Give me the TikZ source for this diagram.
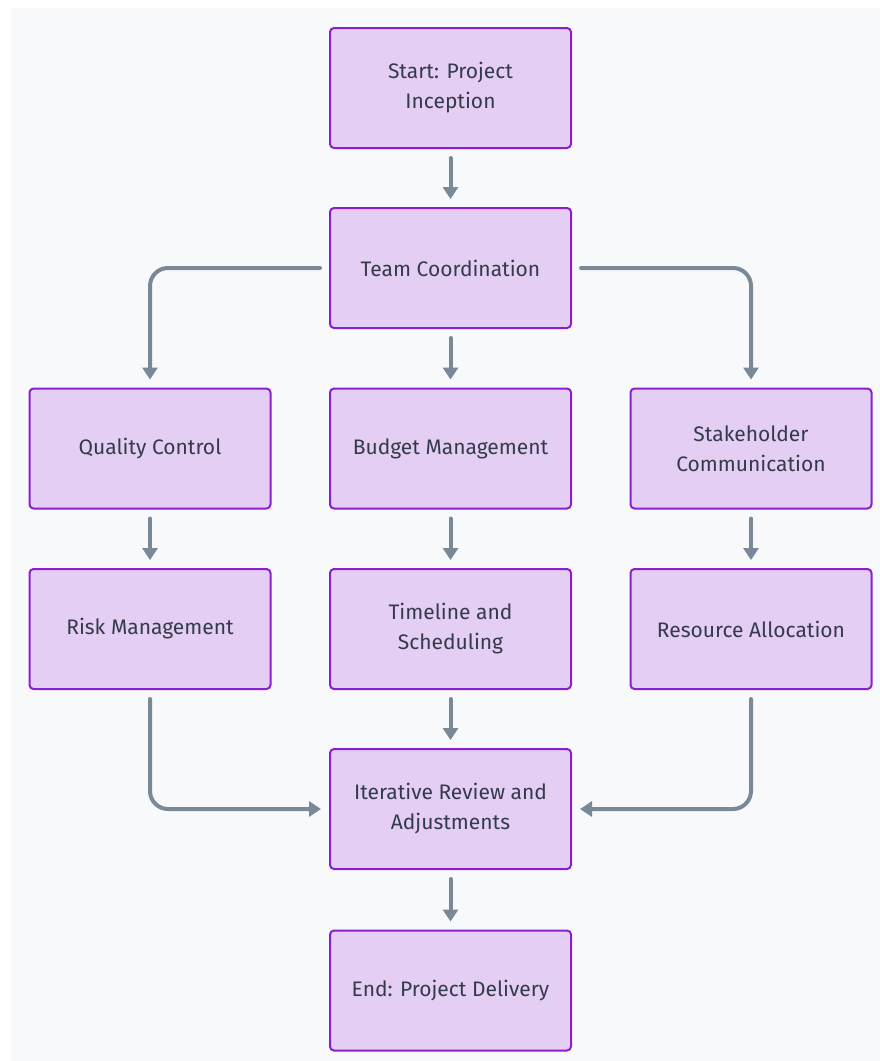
\documentclass[tikz,border=0pt]{standalone}
\usepackage{fontspec}
\setmainfont{Fira Sans}
\usetikzlibrary{arrows.meta}
\definecolor{pagebg}{HTML}{F8F9FA}
\definecolor{boxfill}{HTML}{E4CEF3}
\definecolor{boxline}{HTML}{8A1FCF}
\definecolor{linkcol}{HTML}{7A8998}
\definecolor{txtcol}{HTML}{333B4B}
\tikzset{
  stepbox/.style={draw=boxline, fill=boxfill, line width=2pt, rounded corners=4pt,
    minimum width=241pt, minimum height=120pt, inner sep=0pt,
    align=center, text=txtcol,
    font=\fontsize{21pt}{30pt}\selectfont},
  link/.style={draw=linkcol, line width=4pt, line cap=round, rounded corners=18pt,
    -{Triangle[width=15pt,length=12pt]}, shorten <=9pt, shorten >=8pt},
}
\begin{document}
\begin{tikzpicture}[x=1pt,y=-1pt]
  % canvas
  \fill[white] (0,0) rectangle (880,1061);
  \fill[pagebg] (11,8) rectangle (880,1061);
  \useasboundingbox (0,0) rectangle (880,1061);

  % process steps
  \node[stepbox] (start) at (450.5,88)   {Start: Project\\Inception};
  \node[stepbox] (team)  at (450.5,268)  {Team Coordination};
  \node[stepbox] (qc)    at (150,448.5)  {Quality Control};
  \node[stepbox] (bud)   at (450.5,448.5){Budget Management};
  \node[stepbox] (stk)   at (751,448.5)  {Stakeholder\\Communication};
  \node[stepbox] (risk)  at (150,629)    {Risk Management};
  \node[stepbox] (time)  at (450.5,629)  {Timeline and\\Scheduling};
  \node[stepbox] (res)   at (751,629)    {Resource Allocation};
  \node[stepbox] (iter)  at (450.5,809)  {Iterative Review and\\Adjustments};
  \node[stepbox] (fin)   at (450.5,990.5){End: Project Delivery};

  % flow
  \draw[link] (start) -- (team);
  \draw[link] (team.west) -| (qc.north);
  \draw[link] (team) -- (bud);
  \draw[link] (team.east) -| (stk.north);
  \draw[link] (qc) -- (risk);
  \draw[link] (bud) -- (time);
  \draw[link] (stk) -- (res);
  \draw[link] (risk.south) |- (iter.west);
  \draw[link] (time) -- (iter);
  \draw[link] (res.south) |- (iter.east);
  \draw[link] (iter) -- (fin);
\end{tikzpicture}
\end{document}
